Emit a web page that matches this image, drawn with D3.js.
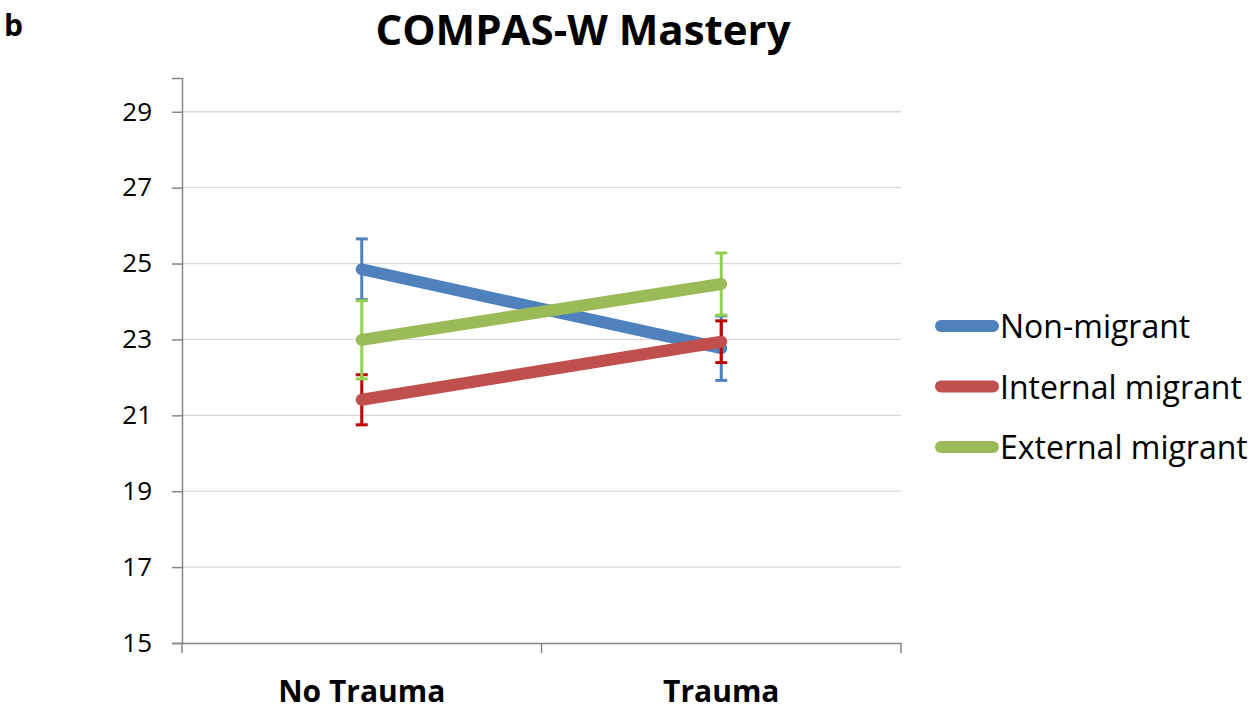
<!DOCTYPE html>
<html>
<head>
<meta charset="utf-8">
<script src="https://cdn.jsdelivr.net/npm/d3@7"></script>
<style>
  body { margin: 0; background: #fff; }
  text { font-family: "Open Sans", "Noto Sans", sans-serif; }
</style>
</head>
<body>
<div id="chart"></div>
<script>
// 数据
const categories = ['No Trauma', 'Trauma'];
const seriesNames = ['Non-migrant', 'Internal migrant', 'External migrant'];
const lineColors = ['#4f81bd', '#c0504d', '#9bbb59'];
const errColors = ['#4f81bd', '#c00000', '#92d050'];
const means = [
  [24.85, 22.77],
  [21.41, 22.94],
  [22.99, 24.46]
];
const errors = [
  [0.80, 0.85],
  [0.66, 0.55],
  [1.03, 0.82]
];
const yTicks = [15, 17, 19, 21, 23, 25, 27, 29];

const W = 1252, H = 710;
const margin = { top: 78, left: 182, right: 351, bottom: 67 };
const width = W - margin.left - margin.right;
const height = H - margin.top - margin.bottom;

const svg = d3.select('#chart').append('svg')
  .attr('width', W).attr('height', H);

const g = svg.append('g')
  .attr('transform', `translate(${margin.left},${margin.top})`);

const x = d3.scaleBand().domain(categories).range([0, width]);
const y = d3.scaleLinear().domain([15, 29.89]).range([height, 0]);

// 网格线
g.selectAll('.grid').data(yTicks.filter(d => d > 15)).enter()
  .append('line')
  .attr('x1', 0).attr('x2', width)
  .attr('y1', d => y(d)).attr('y2', d => y(d))
  .attr('stroke', '#d9d9d9').attr('stroke-width', 1.3);

// y 轴
const yAxis = g.append('g')
  .call(d3.axisLeft(y).tickValues(yTicks).tickSize(10).tickPadding(20));
yAxis.select('.domain').attr('stroke', '#868686').attr('stroke-width', 1.5);
yAxis.selectAll('.tick line').attr('stroke', '#868686').attr('stroke-width', 1.5);
yAxis.selectAll('.tick text')
  .attr('font-size', 26).attr('fill', '#000')
  .style('font-family', '"Open Sans", sans-serif');

// x 轴
const xAxis = g.append('g')
  .attr('transform', `translate(0,${height})`)
  .call(d3.axisBottom(x).tickSize(0).tickPadding(38));
xAxis.select('.domain').attr('stroke', '#868686').attr('stroke-width', 1.5);
xAxis.selectAll('.tick text')
  .attr('font-size', 30).attr('font-weight', 'bold').attr('fill', '#000')
  .style('font-family', '"Open Sans", sans-serif');
// x 轴分隔刻度
g.selectAll('.xsep').data([0, 1, 2]).enter()
  .append('line')
  .attr('x1', d => d * x.bandwidth()).attr('x2', d => d * x.bandwidth())
  .attr('y1', height).attr('y2', height + 10)
  .attr('stroke', '#868686').attr('stroke-width', 1.5);

const cx = c => x(c) + x.bandwidth() / 2;

// 折线与误差线
seriesNames.forEach((name, i) => {
  const pts = categories.map((c, j) => ({ c, v: means[i][j], e: errors[i][j] }));
  const eg = g.append('g');
  pts.forEach(p => {
    eg.append('line')
      .attr('x1', cx(p.c)).attr('x2', cx(p.c))
      .attr('y1', y(p.v - p.e)).attr('y2', y(p.v + p.e))
      .attr('stroke', errColors[i]).attr('stroke-width', 3);
    [p.v - p.e, p.v + p.e].forEach(v => {
      eg.append('line')
        .attr('x1', cx(p.c) - 6).attr('x2', cx(p.c) + 6)
        .attr('y1', y(v)).attr('y2', y(v))
        .attr('stroke', errColors[i]).attr('stroke-width', 3);
    });
  });
  g.append('path')
    .datum(pts)
    .attr('fill', 'none')
    .attr('stroke', lineColors[i])
    .attr('stroke-width', 12)
    .attr('stroke-linecap', 'round')
    .attr('d', d3.line().x(d => cx(d.c)).y(d => y(d.v)));
});

// 图例
const legend = svg.append('g').attr('transform', 'translate(941,326)');
seriesNames.forEach((name, i) => {
  const row = legend.append('g').attr('transform', `translate(0,${i * 60.5})`);
  row.append('line')
    .attr('x1', 0).attr('x2', 52).attr('y1', 0).attr('y2', 0)
    .attr('stroke', lineColors[i]).attr('stroke-width', 12)
    .attr('stroke-linecap', 'round');
  row.append('text')
    .attr('x', 59).attr('y', 12)
    .attr('font-size', 32).attr('fill', '#000')
    .text(name);
});

// 标题
svg.append('text')
  .attr('x', 583).attr('y', 45)
  .attr('text-anchor', 'middle')
  .attr('font-size', 42).attr('font-weight', 'bold')
  .text('COMPAS-W Mastery');

svg.append('text')
  .attr('x', 4).attr('y', 36)
  .attr('font-size', 30).attr('font-weight', 'bold')
  .text('b');
</script>
</body>
</html>
